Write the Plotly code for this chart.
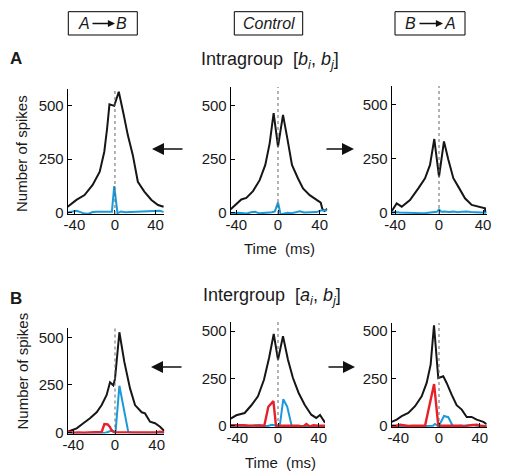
import plotly.graph_objects as go

# page body has an 8px margin; the figure is sized to fill the rest of the 511x471 window
PAGE_W, PAGE_H, OFF = 511, 471, 8
W, H = PAGE_W - OFF, PAGE_H - OFF

# ---------------- data (time in ms, counts in spikes) ----------------
# Panel 1: Intragroup, A->B
t1_black = [-46.6, -38, -30, -22, -15, -10.5, -7.7, -5.4, -0.7, 3.8, 8.7, 12.7, 17.6, 22.6, 29, 36, 42.5, 48]
v1_black = [27, 59, 82, 129, 191, 285, 395, 507, 500, 566, 457, 363, 270, 144, 98, 59, 35, 27]
t1_blue = [-46.6, -42, -38, -34, -30, -26, -22, -18, -14, -10, -6, -3, -0.7, 2.5, 6, 10, 15, 20, 25, 30, 35, 40, 44, 48]
v1_blue = [0, 4, 8, 2, -5, -6, 2, 4, 3, 3, 4, 4, 124, -3, 5, 1, 2, 3, 3, 4, 4, 5, 8, 3]

# Panel 2: Intragroup, Control
t2_black = [-45.4, -40, -35.2, -30.4, -24, -17.6, -12.2, -8, -4.2, 0, 4.8, 8.9, 13.4, 19.2, 24, 30.4, 35.8, 41, 42.5, 44.5, 47.3]
v2_black = [16, 43, 62, 69, 101, 152, 223, 324, 465, 309, 457, 348, 223, 160, 113, 82, 63, 47, 18, 8, 18]
t2_blue = [-45.4, -42, -38, -34, -30, -26, -22, -18, -14, -10, -6, -3, 0, 2.5, 5, 9, 13, 17, 21, 25, 29, 33, 37, 41, 44, 47.3]
v2_blue = [0, -3, 0, -2, -4, 2, 4, -3, -2, 0, 2, 6, 48, -8, -4, 0, -2, 3, 7, 1, 2, 4, 3, 10, 9, 11]

# Panel 3: Intragroup, B->A
t3_black = [-43, -38.5, -33.9, -26.4, -18.8, -12.7, -8.2, -4.3, 0, 4.5, 8.5, 13, 17.5, 23.6, 29.7, 34.2, 41.8, 42]
v3_black = [7, 43, 28, 59, 113, 160, 222, 342, 168, 331, 246, 160, 121, 67, 36, 31, 20, 0]
t3_blue = [-43, -40, -36, -32, -28, -24, -20, -16, -12, -8, -4, -2, 0, 2, 5, 9, 13, 17, 21, 25, 29, 33, 37, 41, 43]
v3_blue = [0, 3, 1, 0, -2, -3, -4, -2, -1, 0, 2, 4, 15, 5, 6, 3, 5, 2, 4, 6, 3, 2, 2, 1, 0]

# Panel 4: Intergroup, A->B
t4_black = [-45.4, -41.6, -36.8, -30.4, -24, -17.6, -12.8, -8, -4.8, -1.6, 0, 4.2, 8.9, 14.4, 19.2, 25.6, 28.8, 33.6, 38.4, 43.2, 47.3]
v4_black = [3, 12, 21, 48, 74, 106, 144, 197, 264, 248, 282, 528, 373, 232, 144, 106, 100, 56, 48, 30, 7]
t4_blue = [-45.4, -40, -35, -30, -25, -20, -15, -10, -6, -3, -1, 0.5, 4.2, 8, 12.8, 16, 20, 25, 30, 35, 40, 44, 47.3]
v4_blue = [-3, -4, -3, -4, -5, -3, -2, -3, 3, 13, 2, 0, 246, 130, 0, -2, -3, -2, -2, -3, -2, -1, -3]
t4_red = [-45.4, -40, -35, -30, -25, -20, -15, -12.8, -10.2, -7, -4.8, -3.2, 0, 5, 10, 15, 20, 25, 30, 35, 40, 43, 47.3]
v4_red = [3, -2, 0, -2, 0, 0, 0, 2, 44, 42, 28, 8, 0, 0, -1, 0, 1, 0, 0, 0, 0, 4, 0]

# Panel 5: Intergroup, Control
t5_black = [-46.5, -41, -32.8, -26.2, -19.7, -13.8, -8.8, -4.2, 0, 4.9, 9.8, 14.7, 20.3, 26.2, 32.7, 37.6, 41.3, 46.2]
v5_black = [37, 55, 67, 108, 155, 243, 358, 485, 349, 473, 349, 252, 173, 111, 58, 41, 57, 16]
t5_blue = [-46.5, -42, -38, -34, -30, -26, -22, -18, -14, -10, -6, -3, 0, 2, 5.2, 9.1, 13.4, 17, 21, 25, 29, 33, 37, 41, 46.2]
v5_blue = [-4, -4, -3, -2, -2, -1, 2, 3, 0, -2, 5, 3, 0, 10, 140, 100, 0, -3, -4, -2, -3, -2, -3, -2, -3]
t5_red = [-46.5, -42, -38, -34, -30, -26, -22, -18, -13.5, -9.5, -4.5, -2, 0, 5, 10, 15, 20, 24.6, 27.9, 31.1, 35, 40, 46.2]
v5_red = [2, 3, 0, 2, 1, 0, 0, 1, 0, 100, 130, 0, 0, 0, -1, 0, 0, -5, 9, -4, 2, 0, 0]

# Panel 6: Intergroup, B->A
t6_black = [-46.4, -41.5, -36.6, -30.1, -23.5, -17, -12.1, -8.2, -4.9, -0.7, 4.2, 7.5, 12.4, 17.3, 22.3, 27.2, 32, 37, 43.5, 46.8]
v6_black = [20, 32, 50, 67, 103, 155, 226, 323, 531, 252, 261, 226, 164, 108, 85, 46, 46, 32, 20, 8]
t6_blue = [-46.4, -42, -38, -34, -30, -26, -22, -18, -14, -10, -6, -4, -2, 0, 4.9, 9.1, 13.4, 18, 22, 26, 30, 33, 37, 42, 46.8]
v6_blue = [-3, -2, -3, -2, -3, -2, -3, -2, -2, -2, 0, 9, 2, 0, 51, 45, 0, -2, -2, -1, 2, 5, 0, -1, -2]
t6_red = [-46.4, -42, -38, -34, -30, -26, -22, -18, -13.7, -4.8, -0.7, 3, 8, 13, 18, 22, 25, 28, 32, 37, 42, 46.8]
v6_red = [0, 0, 5, 0, -2, 0, 0, 0, 0, 220, 0, 0, 0, -2, 0, 0, -5, 0, 2, 5, -2, -4]

x_ticks = [-40, 0, 40]
x_ticktext = ["-40", "0", "40"]
y_ticks = [0, 250, 500]
y_ticktext = ["0", "250", "500"]

conditions = ["A→B", "Control", "B→A"]
row_titles = ["Intragroup", "Intergroup"]

# ---------------- layout helpers (page pixel -> paper fraction) ----------------
def fx(px):
    return (px - OFF) / W

def fy(py):
    return 1 - (py - OFF) / H

BLACK = "#161616"
BLUE = "#1a9ad8"
RED = "#e8202a"
FONT = "Liberation Sans, Arial, Helvetica, sans-serif"

# panel pixel boxes: (left, right, top, bottom), x range, y range
panels = [
    ((67.7, 164.0, 89.0, 214.0), [-46.6, 48.4], [-7, 579]),
    ((230.7, 327.3, 87.0, 214.0), [-45.4, 47.3], [-6, 587]),
    ((391.7, 487.0, 86.0, 214.0), [-43.0, 43.6], [-6, 588]),
    ((67.7, 164.3, 328.3, 433.5), [-45.4, 47.3], [-6, 549]),
    ((230.7, 325.0, 321.7, 427.0), [-46.5, 46.2], [-7, 550]),
    ((391.7, 486.7, 323.0, 427.0), [-46.4, 46.8], [-7, 543]),
]

series = [
    [(t1_black, v1_black, BLACK, 2.0), (t1_blue, v1_blue, BLUE, 2.0)],
    [(t2_black, v2_black, BLACK, 2.0), (t2_blue, v2_blue, BLUE, 2.0)],
    [(t3_black, v3_black, BLACK, 2.0), (t3_blue, v3_blue, BLUE, 2.0)],
    [(t4_black, v4_black, BLACK, 2.0), (t4_blue, v4_blue, BLUE, 2.0), (t4_red, v4_red, RED, 2.4)],
    [(t5_black, v5_black, BLACK, 2.0), (t5_blue, v5_blue, BLUE, 2.0), (t5_red, v5_red, RED, 2.4)],
    [(t6_black, v6_black, BLACK, 2.0), (t6_blue, v6_blue, BLUE, 2.0), (t6_red, v6_red, RED, 2.4)],
]

fig = go.Figure()
layout = dict(
    template="none",
    width=W, height=H,
    autosize=False,
    margin=dict(l=0, r=0, t=0, b=0, pad=0, autoexpand=False),
    paper_bgcolor="white", plot_bgcolor="white",
    showlegend=False,
    font=dict(family=FONT, size=15, color="#1a1a1a"),
)
shapes = []
annotations = []

for i, ((l, r, t, b), xr, yr) in enumerate(panels):
    n = i + 1
    xa = "x" if n == 1 else f"x{n}"
    ya = "y" if n == 1 else f"y{n}"
    for (tx, vy, col, lw) in series[i]:
        fig.add_trace(go.Scatter(x=tx, y=vy, mode="lines", xaxis=xa, yaxis=ya,
                                 line=dict(color=col, width=lw), hoverinfo="skip"))
    common = dict(showline=True, linecolor="black", linewidth=1, ticks="inside",
                  ticklen=4, tickwidth=1, tickcolor="black", showgrid=False,
                  zeroline=False, fixedrange=True, automargin=False,
                  tickfont=dict(family=FONT, size=15, color="#1a1a1a"))
    layout["xaxis" if n == 1 else f"xaxis{n}"] = dict(
        common, domain=[fx(l), fx(r)], range=xr, anchor=ya,
        tickvals=x_ticks, ticktext=x_ticktext, ticklabelstandoff=-3)
    layout["yaxis" if n == 1 else f"yaxis{n}"] = dict(
        common, domain=[fy(b), fy(t)], range=yr, anchor=xa,
        tickvals=y_ticks, ticktext=y_ticktext)
    # dotted zero line
    shapes.append(dict(type="line", xref=xa, yref=f"{ya} domain", x0=0, x1=0, y0=0, y1=1,
                       line=dict(color="#666666", width=1, dash="dot")))

# condition boxes at top
boxes = [(68.3, 137.3), (234.3, 302.7), (395.0, 465.0)]
for (x0, x1) in boxes:
    shapes.append(dict(type="rect", xref="paper", yref="paper",
                       x0=fx(x0), x1=fx(x1), y0=fy(35), y1=fy(11.7),
                       line=dict(color="black", width=1)))

def txt(px, py, s, size=15, **kw):
    annotations.append(dict(xref="paper", yref="paper", x=fx(px), y=fy(py), text=s,
                            showarrow=False, xanchor="center", yanchor="middle",
                            font=dict(family=FONT, size=size, color="#1a1a1a"), **kw))

def arrow(hx, hy, tx, ty, size=1.0, width=1.3):
    annotations.append(dict(xref="paper", yref="paper", x=fx(hx), y=fy(hy),
                            ax=tx - hx, ay=ty - hy, text="", showarrow=True,
                            arrowhead=2, arrowsize=size, arrowwidth=width,
                            arrowcolor="#111111", standoff=0, startstandoff=0))

# A->B box
txt(84, 23.5, "<i>A</i>", 16)
arrow(115, 23.5, 91, 23.5, size=1.1, width=1.3)
txt(121.5, 23.5, "<i>B</i>", 16)
# Control box
txt(268.5, 23.5, "<i>" + conditions[1] + "</i>", 16)
# B->A box
txt(410, 23.5, "<i>B</i>", 16)
arrow(443, 23.5, 418, 23.5, size=1.1, width=1.3)
txt(450, 23.5, "<i>A</i>", 16)

# section labels
txt(16, 59, "<b>A</b>", 17)
txt(16, 298, "<b>B</b>", 17)
txt(270, 60, row_titles[0] + "\u00a0 [<i>b<sub>i</sub></i>, <i>b<sub>j</sub></i>]", 18)
txt(272, 296, row_titles[1] + "\u00a0 [<i>a<sub>i</sub></i>, <i>b<sub>j</sub></i>]", 18)

# axis titles
txt(21.5, 153.5, "Number of spikes", 15, textangle=-90)
txt(21.5, 371, "Number of spikes", 15, textangle=-90)
txt(279, 249, "Time\u00a0 (ms)", 15)
txt(280, 462, "Time\u00a0 (ms)", 15)

# arrows between panels
arrow(152, 149, 184, 149, size=1.6, width=1.5)
arrow(354, 149, 325, 149, size=1.6, width=1.5)
arrow(151, 367, 183, 367, size=1.6, width=1.5)
arrow(355, 367, 327, 367, size=1.6, width=1.5)

layout["shapes"] = shapes
layout["annotations"] = annotations
fig.update_layout(**layout)
fig.write_html("out.html")
